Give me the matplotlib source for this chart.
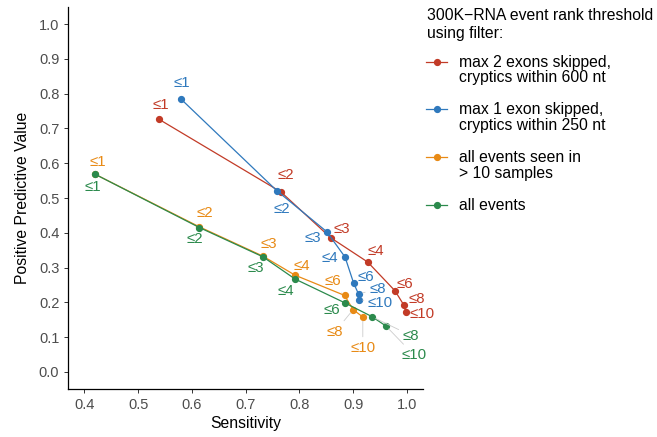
import matplotlib
matplotlib.use("Agg")
import matplotlib.pyplot as plt
from matplotlib.lines import Line2D

plt.rcParams['font.family'] = ['Liberation Sans', 'DejaVu Sans']

# rank thresholds shown as labels on every point
ranks = [1, 2, 3, 4, 6, 8, 10]

sens_max2 = [0.538, 0.766, 0.858, 0.927, 0.978, 0.994, 0.998]
ppv_max2 = [0.727, 0.517, 0.386, 0.316, 0.233, 0.193, 0.173]

sens_max1 = [0.580, 0.758, 0.851, 0.885, 0.901, 0.910, 0.910]
ppv_max1 = [0.784, 0.521, 0.403, 0.330, 0.255, 0.224, 0.208]

sens_gt10 = [0.419, 0.614, 0.732, 0.792, 0.884, 0.900, 0.918]
ppv_gt10 = [0.569, 0.417, 0.333, 0.278, 0.220, 0.179, 0.158]

sens_all = [0.419, 0.614, 0.732, 0.792, 0.884, 0.935, 0.961]
ppv_all = [0.569, 0.415, 0.331, 0.267, 0.199, 0.159, 0.132]

filters = ["max 2 exons skipped,\ncryptics within 600 nt",
           "max 1 exon skipped,\ncryptics within 250 nt",
           "all events seen in\n> 10 samples",
           "all events"]
colors = ["#C23B27", "#2F79BD", "#E88A15", "#2B8A4C"]

# label offsets in pixels (dx right, dy down) and whether a leader line is drawn
offsets = [
    [(2, -14), (5, -17), (11, -9), (8, -11), (10, -7), (13, -6), (16, 2)],
    [(1, -16), (5, 18), (-14, 6), (-15, 1), (12, -6), (19, -5), (22, 3)],
    [(3, -12), (5, -14), (6, -12), (7, -9), (-12, -14), (-18, 22), (0, 31)],
    [(-2, 13), (-5, 11), (-7, 11), (-9, 12), (-13, 7), (39, 19), (28, 29)],
]
leaders = [
    [0, 0, 0, 0, 0, 0, 0],
    [0, 0, 0, 0, 0, 1, 1],
    [0, 0, 0, 0, 1, 1, 1],
    [0, 0, 0, 0, 0, 1, 1],
]

series = [(sens_max2, ppv_max2), (sens_max1, ppv_max1),
          (sens_gt10, ppv_gt10), (sens_all, ppv_all)]

W, H = 657, 437
fig = plt.figure(figsize=(W / 100, H / 100), dpi=100)
ax = fig.add_axes([68.3 / W, 1 - 389.3 / H, (423 - 68.3) / W, (389.3 - 6.7) / H])

px = 0.72  # points per pixel at 100 dpi
for (xs, ys), col, offs, lead in zip(series, colors, offsets, leaders):
    ax.plot(xs, ys, color=col, lw=0.9, marker='o', ms=4.2, zorder=3)
    for x, y, r, (dx, dy), ld in zip(xs, ys, ranks, offs, lead):
        arrow = None
        if ld:
            arrow = dict(arrowstyle='-', color='#cccccc', lw=0.6,
                         shrinkA=1, shrinkB=3)
        ax.annotate("\u2264%d" % r, (x, y), xytext=(dx * px, -dy * px),
                    textcoords='offset points', ha='center', va='center',
                    color=col, fontsize=10.8, arrowprops=arrow, zorder=4)

ax.set_xlim(0.37, 1.03)
ax.set_ylim(-0.05, 1.05)
ax.set_xticks([0.4, 0.5, 0.6, 0.7, 0.8, 0.9, 1.0])
ax.set_yticks([i / 10 for i in range(11)])
ax.set_xticklabels(["0.4", "0.5", "0.6", "0.7", "0.8", "0.9", "1.0"])
ax.set_yticklabels(["%.1f" % (i / 10) for i in range(11)])
ax.tick_params(colors='#333333', labelcolor='#4D4D4D', labelsize=10.5,
               length=3, width=0.7)
for s in ['top', 'right']:
    ax.spines[s].set_visible(False)
for s in ['left', 'bottom']:
    ax.spines[s].set_linewidth(0.9)
ax.set_xlabel("Sensitivity", fontsize=11.3, labelpad=3)
ax.set_ylabel("Positive Predictive Value", fontsize=11.3, labelpad=6)

# legend drawn by hand so the keys sit on the first text line
fs = 11.3
fig.text(426.7 / W, 1 - 15 / H, "300K\u2212RNA event rank threshold",
         fontsize=fs, va='center', ha='left')
fig.text(426.7 / W, 1 - 33.3 / H, "using filter:",
         fontsize=fs, va='center', ha='left')
key_y = [61.5, 109.3, 157.3, 205.3]
for lab, col, ky in zip(filters, colors, key_y):
    fig.add_artist(Line2D([426 / W, 447.3 / W], [1 - ky / H, 1 - ky / H],
                          color=col, lw=0.9, transform=fig.transFigure))
    fig.add_artist(Line2D([436.7 / W], [1 - ky / H], color=col, marker='o',
                          ms=4.2, transform=fig.transFigure))
    for i, line in enumerate(lab.split("\n")):
        fig.text(459.3 / W, 1 - (ky + 0.5 + i * 15.7) / H, line,
                 fontsize=fs, va='center', ha='left')

fig.savefig("out.png", dpi=100)
